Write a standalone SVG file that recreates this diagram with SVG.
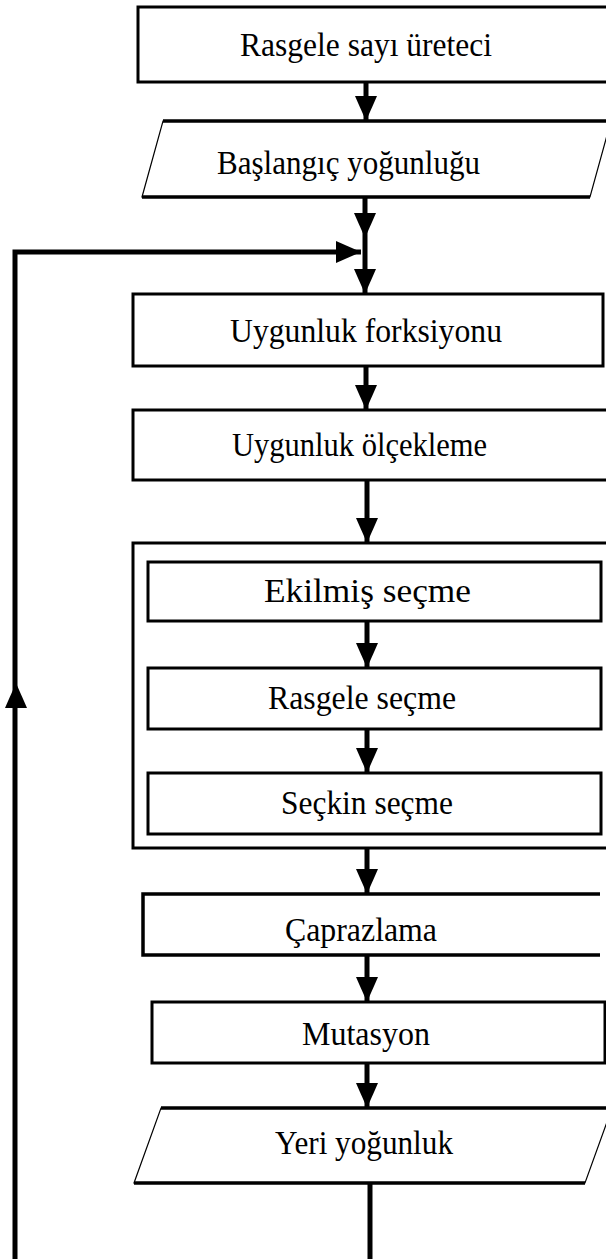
<svg xmlns="http://www.w3.org/2000/svg" width="606" height="1259" viewBox="0 0 606 1259">
  <style>
    .box { fill: #fff; stroke: #000; stroke-width: 3; }
    .inner { fill: #fff; stroke: #000; stroke-width: 3; }
    .slant { fill: #fff; stroke: #000; stroke-width: 1.2; }
    .edge { fill: none; stroke: #000; stroke-width: 3.5; }
    .lbl { font-family: "Liberation Serif", "Times New Roman", serif; font-size: 34px; fill: #000; }
    .wire { fill: none; stroke: #000; stroke-width: 5; }
  </style>
  <defs>
    <marker id="head" markerUnits="userSpaceOnUse" markerWidth="26" markerHeight="24" refX="25" refY="12" orient="auto">
      <path d="M0,1 L25,12 L0,23 z" fill="#000"/>
    </marker>
  </defs>
  <rect width="606" height="1259" fill="#fff"/>

  <g id="rng">
    <rect class="box" x="138" y="7" width="480" height="75"/>
    <text class="lbl" x="240" y="56" textLength="252" lengthAdjust="spacingAndGlyphs">Rasgele sayı üreteci</text>
  </g>

  <g id="initial-population">
    <polygon class="slant" points="163,121 611,121 590,197 142,197"/>
    <path class="edge" d="M163,121 H611 M142,197 H590"/>
    <text class="lbl" x="217" y="174" textLength="263" lengthAdjust="spacingAndGlyphs">Başlangıç yoğunluğu</text>
  </g>

  <g id="fitness-function">
    <rect class="box" x="133" y="294" width="470" height="72"/>
    <text class="lbl" x="230" y="342" textLength="272" lengthAdjust="spacingAndGlyphs">Uygunluk forksiyonu</text>
  </g>

  <g id="fitness-scaling">
    <rect class="box" x="133" y="410" width="480" height="70"/>
    <text class="lbl" x="232" y="456" textLength="255" lengthAdjust="spacingAndGlyphs">Uygunluk ölçekleme</text>
  </g>

  <g id="selection">
    <rect class="box" x="133" y="543" width="480" height="305" stroke-width="4"/>
    <g id="weighted-selection">
      <rect class="inner" x="148" y="562" width="453" height="59"/>
      <text class="lbl" x="264" y="602" textLength="207" lengthAdjust="spacingAndGlyphs">Ekilmiş seçme</text>
    </g>
    <g id="random-selection">
      <rect class="inner" x="148" y="668" width="453" height="61"/>
      <text class="lbl" x="268" y="709" textLength="188" lengthAdjust="spacingAndGlyphs">Rasgele seçme</text>
    </g>
    <g id="elite-selection">
      <rect class="inner" x="148" y="773" width="453" height="61"/>
      <text class="lbl" x="281" y="814" textLength="172" lengthAdjust="spacingAndGlyphs">Seçkin seçme</text>
    </g>
  </g>

  <g id="crossover">
    <rect x="143" y="894" width="457" height="61" fill="#fff"/>
    <path class="edge" d="M600,894 H143 V955 H600" stroke-width="3"/>
    <text class="lbl" x="285" y="941" textLength="152" lengthAdjust="spacingAndGlyphs">Çaprazlama</text>
  </g>

  <g id="mutation">
    <rect class="box" x="152" y="1002" width="453" height="61"/>
    <text class="lbl" x="302" y="1045" textLength="128" lengthAdjust="spacingAndGlyphs">Mutasyon</text>
  </g>

  <g id="new-population">
    <polygon class="slant" points="161,1108 612,1108 585,1183 134,1183"/>
    <path class="edge" d="M161,1108 H612 M134,1183 H585"/>
    <text class="lbl" x="275" y="1154" textLength="178" lengthAdjust="spacingAndGlyphs">Yeri yoğunluk</text>
  </g>

  <g id="connectors">
    <path class="wire" d="M366,82 V121" marker-end="url(#head)"/>
    <path class="wire" d="M365,197 V238" marker-end="url(#head)"/>
    <path class="wire" d="M365,238 V294" marker-end="url(#head)"/>
    <path class="wire" d="M366,366 V410" marker-end="url(#head)"/>
    <path class="wire" d="M367,480 V543" marker-end="url(#head)"/>
    <path class="wire" d="M367,621 V668" marker-end="url(#head)"/>
    <path class="wire" d="M367,729 V773" marker-end="url(#head)"/>
    <path class="wire" d="M367,848 V894" marker-end="url(#head)"/>
    <path class="wire" d="M367,955 V1002" marker-end="url(#head)"/>
    <path class="wire" d="M367,1063 V1108" marker-end="url(#head)"/>
    <path class="wire" d="M370,1183 V1259"/>
    <!-- feedback loop back to the fitness stage -->
    <path class="wire" d="M15,1259 V252 H361" marker-end="url(#head)"/>
    <polygon points="16,683 5,708 27,708" fill="#000"/>
  </g>
</svg>
